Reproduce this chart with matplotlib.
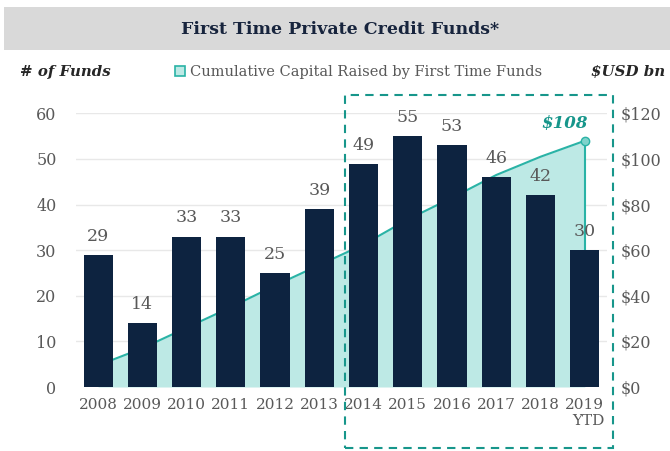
import numpy as np
import matplotlib
matplotlib.use("Agg")
import matplotlib.pyplot as plt
from matplotlib.patches import Rectangle, Patch

plt.rcParams['font.family'] = 'DejaVu Serif'

# data
years = ['2008', '2009', '2010', '2011', '2012', '2013',
         '2014', '2015', '2016', '2017', '2018', '2019\nYTD']
funds = [29, 14, 33, 33, 25, 39, 49, 55, 53, 46, 42, 30]
cum_capital = [9.5, 17, 26, 35, 44.5, 53.5, 62.5, 73.5, 83, 93, 101, 108]

navy = '#0d2340'
teal = '#2ab3a6'
teal_dark = '#17968b'
teal_fill = '#bde9e5'
gray_txt = '#595959'

fig = plt.figure(figsize=(6.7, 4.51), dpi=100)
fig.patch.set_facecolor('white')

# title band
fig.patches.append(Rectangle((0.006, 1 - 50/451), 0.994, 43/451, transform=fig.transFigure,
                             facecolor='#d9d9d9', edgecolor='none', zorder=0))
fig.text(0.507, 1 - 29/451, 'First Time Private Credit Funds*', ha='center', va='center',
         fontsize=12.5, fontweight='bold', color='#17243d')

ax = fig.add_axes([0.1134, 0.1419, 0.7925, 0.6067])
ax2 = ax.twinx()
ax.set_zorder(ax2.get_zorder() + 1)
ax.patch.set_visible(False)

x = np.arange(len(years))

# cumulative capital area (right axis)
ax2.fill_between(x, 0, cum_capital, color=teal_fill, lw=0, zorder=1)
ax2.plot(x, cum_capital, color=teal, lw=1.5, zorder=2)
ax2.plot([x[-1], x[-1]], [0, cum_capital[-1]], color=teal, lw=1.5, zorder=2)
ax2.plot([x[-1]], [cum_capital[-1]], 'o', ms=6, mfc='#7fd3cb', mec=teal, mew=1, zorder=3)
ax2.text(x[-1] - 0.45, cum_capital[-1] + 4, '$%d' % cum_capital[-1], ha='center', va='bottom',
         fontsize=12, fontweight='bold', fontstyle='italic', color=teal_dark)
ax2.set_ylim(0, 120)
ax2.set_yticks(np.arange(0, 121, 20))
ax2.set_yticklabels(['$%d' % v for v in range(0, 121, 20)])

# bars (left axis)
ax.bar(x, funds, width=0.66, color=navy, zorder=3)
for xi, v in zip(x, funds):
    ax.text(xi, v + 2.2, str(v), ha='center', va='bottom', fontsize=12.5, color=gray_txt, zorder=4)
ax.set_ylim(0, 60)
ax.set_xlim(-0.5, 11.5)
ax.set_yticks(np.arange(0, 61, 10))
ax.set_xticks(x)
ax.set_xticklabels(years, multialignment='right')
for yv in range(10, 61, 10):
    ax2.axhline(yv * 2, color='#e8e8e8', lw=1, zorder=0)

for a in (ax, ax2):
    for s in a.spines.values():
        s.set_visible(False)
    a.tick_params(length=0, labelsize=11.5, colors=gray_txt)
ax.tick_params(axis='x', labelsize=11)
ax.tick_params(axis='y', pad=14)
ax2.tick_params(axis='y', pad=10)
ax.tick_params(axis='x', pad=8)

# axis titles and legend
fig.text(0.03, 1 - 72/451, '# of Funds', ha='left', va='center', fontsize=10.8,
         fontweight='bold', fontstyle='italic', color='#262626')
fig.text(0.993, 1 - 72/451, '$USD bn', ha='right', va='center', fontsize=10.8,
         fontweight='bold', fontstyle='italic', color='#262626')
fig.legend(handles=[Patch(facecolor=teal_fill, edgecolor=teal, lw=1.2)],
           labels=['Cumulative Capital Raised by First Time Funds'],
           loc='center', bbox_to_anchor=(0.535, 1 - 72/451), frameon=False,
           handlelength=0.7, handleheight=0.7, handletextpad=0.3,
           prop={'size': 10.5}, labelcolor=gray_txt)

# dashed highlight box for 2014-2019
fig.patches.append(Rectangle((345/670, 1 - 448/451), (613 - 345)/670, (448 - 95)/451,
                             transform=fig.transFigure, fill=False, edgecolor=teal_dark,
                             lw=1.5, ls=(0, (4, 3)), zorder=10))

fig.savefig('out.png', dpi=100)
